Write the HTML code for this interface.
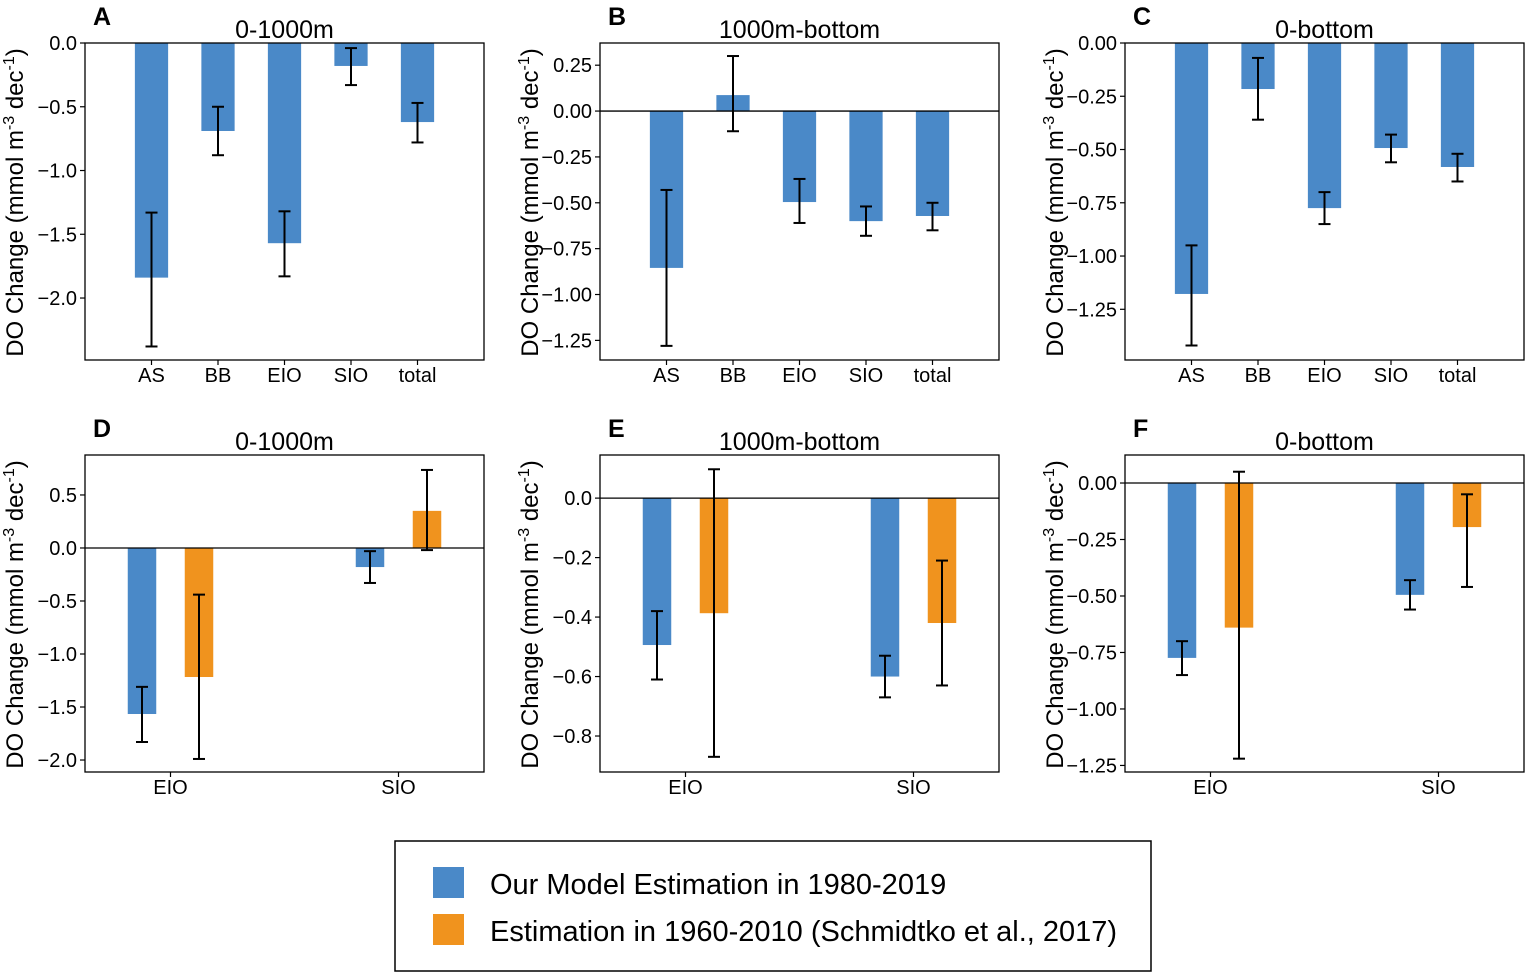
<!DOCTYPE html>
<html><head><meta charset="utf-8">
<style>
body{margin:0;background:#fff;}
svg{display:block;font-family:"Liberation Sans",Arial,sans-serif;}
</style></head>
<body>
<svg id="fig" width="1529" height="979" viewBox="0 0 1529 979" xmlns="http://www.w3.org/2000/svg">
<g id="panels"></g>
<g>
<rect x="395" y="841" width="756" height="130" fill="#fff" stroke="#000" stroke-width="1.5"/>
<rect x="433" y="867" width="31" height="31" fill="#4a89c8"/>
<text x="490" y="894" font-size="29">Our Model Estimation in 1980-2019</text>
<rect x="433" y="914" width="31" height="31" fill="#f0931e"/>
<text x="490" y="941" font-size="29">Estimation in 1960-2010 (Schmidtko et al., 2017)</text>
</g>
</svg>
<script>
const cats5 = ["AS","BB","EIO","SIO","total"];
const cats2 = ["EIO","SIO"];
const aVals = [-1.84,-0.69,-1.57,-0.18,-0.62];
const aLo = [-2.38,-0.88,-1.83,-0.33,-0.78];
const aHi = [-1.33,-0.50,-1.32,-0.04,-0.47];
const bVals = [-0.855,0.087,-0.496,-0.60,-0.572];
const bLo = [-1.28,-0.11,-0.61,-0.68,-0.65];
const bHi = [-0.43,0.30,-0.37,-0.52,-0.50];
const cVals = [-1.178,-0.216,-0.775,-0.493,-0.582];
const cLo = [-1.42,-0.36,-0.85,-0.56,-0.65];
const cHi = [-0.95,-0.07,-0.70,-0.43,-0.52];
const dModel = [-1.566,-0.18]; const dModelLo=[-1.83,-0.33]; const dModelHi=[-1.31,-0.03];
const dObs = [-1.217,0.35]; const dObsLo=[-1.99,-0.02]; const dObsHi=[-0.44,0.736];
const eModel = [-0.494,-0.60]; const eModelLo=[-0.61,-0.67]; const eModelHi=[-0.38,-0.53];
const eObs = [-0.387,-0.42]; const eObsLo=[-0.87,-0.63]; const eObsHi=[0.097,-0.21];
const fModel = [-0.774,-0.495]; const fModelLo=[-0.85,-0.56]; const fModelHi=[-0.70,-0.43];
const fObs = [-0.64,-0.195]; const fObsLo=[-1.22,-0.46]; const fObsHi=[0.05,-0.05];
const ticksA=[0,-0.5,-1,-1.5,-2], ticksB=[0.25,0,-0.25,-0.5,-0.75,-1,-1.25], ticksC=[0,-0.25,-0.5,-0.75,-1,-1.25];
const ticksD=[0.5,0,-0.5,-1,-1.5,-2], ticksE=[0,-0.2,-0.4,-0.6,-0.8], ticksF=[0,-0.25,-0.5,-0.75,-1,-1.25];

const NS="http://www.w3.org/2000/svg";
const root=document.getElementById('panels');
function el(tag,attrs,parent){const e=document.createElementNS(NS,tag);for(const k in attrs)e.setAttribute(k,attrs[k]);(parent||root).appendChild(e);return e;}

function panel(cfg){
  const g=el('g',{});
  
  
  const x0=cfg.x,y0=cfg.y,w=399,h=317;
  const ys=v=>y0+(cfg.ymax-v)/(cfg.ymax-cfg.ymin)*h;
  const xs=v=>x0+(v-cfg.xmin)/(cfg.xmax-cfg.xmin)*w;
  cfg.series.forEach((s,si)=>{
    s.vals.forEach((v,i)=>{
      const cx=xs(i+s.off);
      const bw=xs(cfg.bw)-xs(0);
      const r=el('rect',{x:cx-bw/2,y:Math.min(ys(0),ys(v)),width:bw,height:Math.abs(ys(v)-ys(0)),fill:s.color},g);
      
      
      const eg=el('g',{stroke:'#000','stroke-width':2},g);
      
      
      el('line',{x1:cx,x2:cx,y1:ys(s.lo[i]),y2:ys(s.hi[i])},eg);
      el('line',{x1:cx-6,x2:cx+6,y1:ys(s.lo[i]),y2:ys(s.lo[i])},eg);
      el('line',{x1:cx-6,x2:cx+6,y1:ys(s.hi[i]),y2:ys(s.hi[i])},eg);
    });
  });
  if(cfg.zero){const z=el('line',{x1:x0,x2:x0+w,y1:ys(0),y2:ys(0),stroke:'#000','stroke-width':1.3},g);
    }
  const fr=el('rect',{x:x0,y:y0,width:w,height:h,fill:'none',stroke:'#000','stroke-width':1.3},g);
  
  cfg.ticks.forEach(t=>{
    const y=ys(t);
    el('line',{x1:x0-5,x2:x0,y1:y,y2:y,stroke:'#000','stroke-width':1.2},g);
    const tx=el('text',{x:x0-8,y:y+7,'font-size':20,'text-anchor':'end'},g);
    tx.textContent=(t<0?'\u2212':'')+Math.abs(t).toFixed(cfg.dec);
    
  });
  cfg.cats.forEach((c,i)=>{
    const x=xs(i);
    el('line',{x1:x,x2:x,y1:y0+h,y2:y0+h+5,stroke:'#000','stroke-width':1.2},g);
    const tx=el('text',{x:x,y:y0+h+22,'font-size':20,'text-anchor':'middle'},g);
    tx.textContent=c;
    
  });
  const ti=el('text',{x:x0+w/2,y:y0-5,'font-size':25,'text-anchor':'middle'},g);
  ti.textContent=cfg.title;
  const le=el('text',{x:x0+8,y:y0-18,'font-size':25,'font-weight':'bold'},g);
  le.textContent=cfg.letter;
  const cy=y0+h/2+1, lx=x0-62;
  const yl=el('text',{x:lx,y:cy,'font-size':24,'text-anchor':'middle',transform:`rotate(-90 ${lx} ${cy})`},g);
  yl.innerHTML='DO Change (mmol m<tspan dy="-9" font-size="16">-3</tspan><tspan dy="9"> dec</tspan><tspan dy="-9" font-size="16">-1</tspan><tspan dy="9">)</tspan>';
  
}
const B='#4a89c8',O='#f0931e';
panel({letter:'A',title:'0-1000m',x:85,y:43,ymax:0,ymin:-2.486,xmin:-1,xmax:5,bw:0.5,cats:cats5,ticks:ticksA,dec:1,zero:false,
  series:[{name:'model',vals:aVals,lo:aLo,hi:aHi,off:0,color:B}]});
panel({letter:'B',title:'1000m-bottom',x:600,y:43,ymax:0.371,ymin:-1.357,xmin:-1,xmax:5,bw:0.5,cats:cats5,ticks:ticksB,dec:2,zero:true,
  series:[{name:'model',vals:bVals,lo:bLo,hi:bHi,off:0,color:B}]});
panel({letter:'C',title:'0-bottom',x:1125,y:43,ymax:0,ymin:-1.488,xmin:-1,xmax:5,bw:0.5,cats:cats5,ticks:ticksC,dec:2,zero:false,
  series:[{name:'model',vals:cVals,lo:cLo,hi:cHi,off:0,color:B}]});
panel({letter:'D',title:'0-1000m',x:85,y:455,ymax:0.877,ymin:-2.113,xmin:-0.375,xmax:1.375,bw:0.125,cats:cats2,ticks:ticksD,dec:1,zero:true,
  series:[{name:'model',vals:dModel,lo:dModelLo,hi:dModelHi,off:-0.125,color:B},{name:'schmidtko',vals:dObs,lo:dObsLo,hi:dObsHi,off:0.125,color:O}]});
panel({letter:'E',title:'1000m-bottom',x:600,y:455,ymax:0.145,ymin:-0.921,xmin:-0.375,xmax:1.375,bw:0.125,cats:cats2,ticks:ticksE,dec:1,zero:true,
  series:[{name:'model',vals:eModel,lo:eModelLo,hi:eModelHi,off:-0.125,color:B},{name:'schmidtko',vals:eObs,lo:eObsLo,hi:eObsHi,off:0.125,color:O}]});
panel({letter:'F',title:'0-bottom',x:1125,y:455,ymax:0.124,ymin:-1.279,xmin:-0.375,xmax:1.375,bw:0.125,cats:cats2,ticks:ticksF,dec:2,zero:true,
  series:[{name:'model',vals:fModel,lo:fModelLo,hi:fModelHi,off:-0.125,color:B},{name:'schmidtko',vals:fObs,lo:fObsLo,hi:fObsHi,off:0.125,color:O}]});
</script>
</body></html>
